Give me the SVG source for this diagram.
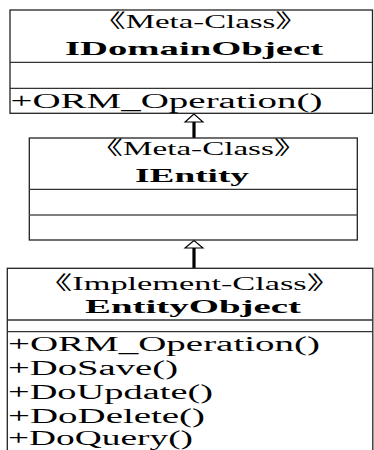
<svg xmlns="http://www.w3.org/2000/svg" width="374" height="450" viewBox="0 0 374 450">
<style>
.box{fill:#fff;stroke:#222;stroke-width:1.3}
.div{stroke:#333;stroke-width:1.3}
text{font-family:"Liberation Serif","Times New Roman","Noto Sans CJK SC",serif;fill:#000}
.st{font-size:19px}
.nm{font-size:19px;font-weight:bold}
.op{font-size:20px}
.line{stroke:#000;stroke-width:3.2;fill:none}
.tri{fill:#fff;stroke:#000;stroke-width:1.1}
</style>
<rect width="374" height="450" fill="#fff"/>
<g id="connectors">
<line class="line" x1="194" y1="121" x2="194" y2="138"/>
<polygon class="tri" points="194,114 185,122 203,122"/>
<line class="line" x1="194" y1="247" x2="194" y2="268"/>
<polygon class="tri" points="194,240.5 185,248 203,248"/>
</g>
<g id="IDomainObject">
<rect class="box" x="10" y="10" width="362.5" height="103.3"/>
<line class="div" x1="10" y1="62.3" x2="372.5" y2="62.3"/>
<line class="div" x1="10" y1="88.3" x2="372.5" y2="88.3"/>
<text class="st" transform="translate(93,27.5) scale(1.9,1)" textLength="113.2" lengthAdjust="spacingAndGlyphs">《Meta-Class》</text>
<text class="nm" transform="translate(65,55) scale(1.9,1)" textLength="135.8" lengthAdjust="spacingAndGlyphs">IDomainObject</text>
<text class="op" transform="translate(10.5,108) scale(1.9,1)" textLength="164.2" lengthAdjust="spacingAndGlyphs">+ORM_Operation()</text>
</g>
<g id="IEntity">
<rect class="box" x="29.3" y="138" width="328" height="102"/>
<line class="div" x1="29.3" y1="189.3" x2="357.3" y2="189.3"/>
<line class="div" x1="29.3" y1="215" x2="357.3" y2="215" style="stroke:#555;stroke-width:1.6"/>
<text class="st" transform="translate(90,155) scale(1.9,1)" textLength="114.2" lengthAdjust="spacingAndGlyphs">《Meta-Class》</text>
<text class="nm" transform="translate(135,181.7) scale(1.9,1)" textLength="60" lengthAdjust="spacingAndGlyphs">IEntity</text>
</g>
<g id="EntityObject">
<rect class="box" x="7.3" y="268.3" width="365.5" height="200"/>
<line class="div" x1="7.3" y1="320" x2="372.8" y2="320"/>
<line class="div" x1="7.3" y1="331.7" x2="372.8" y2="331.7"/>
<text class="st" transform="translate(38,290) scale(1.9,1)" textLength="159.5" lengthAdjust="spacingAndGlyphs">《Implement-Class》</text>
<text class="nm" transform="translate(85,313.3) scale(1.9,1)" textLength="113.7" lengthAdjust="spacingAndGlyphs">EntityObject</text>
<text class="op" transform="translate(8,351) scale(1.9,1)" textLength="164.2" lengthAdjust="spacingAndGlyphs">+ORM_Operation()</text>
<text class="op" transform="translate(8,375) scale(1.9,1)" textLength="89.5" lengthAdjust="spacingAndGlyphs">+DoSave()</text>
<text class="op" transform="translate(8,399) scale(1.9,1)" textLength="107.9" lengthAdjust="spacingAndGlyphs">+DoUpdate()</text>
<text class="op" transform="translate(8,423) scale(1.9,1)" textLength="103.7" lengthAdjust="spacingAndGlyphs">+DoDelete()</text>
<text class="op" transform="translate(8,445) scale(1.9,1)" textLength="97.4" lengthAdjust="spacingAndGlyphs">+DoQuery()</text>
</g>
</svg>
